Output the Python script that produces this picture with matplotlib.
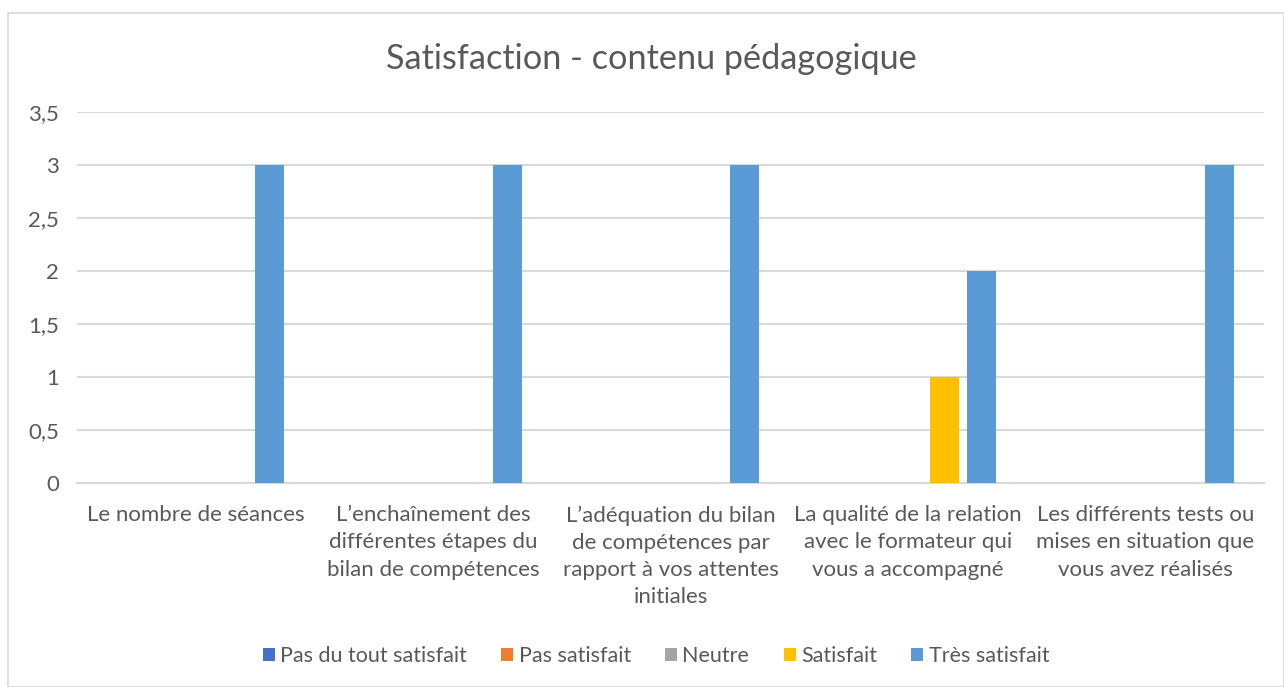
import matplotlib
matplotlib.use("Agg")
import matplotlib.pyplot as plt
from matplotlib.patches import Rectangle
import numpy as np

categories = [
    "Le nombre de séances",
    "L’enchaînement des\ndifférentes étapes du\nbilan de compétences",
    "L’adéquation du bilan\nde compétences par\nrapport à vos attentes\ninitiales",
    "La qualité de la relation\navec le formateur qui\nvous a accompagné",
    "Les différents tests ou\nmises en situation que\nvous avez réalisés",
]
series_names = ["Pas du tout satisfait", "Pas satisfait", "Neutre", "Satisfait", "Très satisfait"]
pas_du_tout = [0, 0, 0, 0, 0]
pas_satisfait = [0, 0, 0, 0, 0]
neutre = [0, 0, 0, 0, 0]
satisfait = [0, 0, 0, 1, 0]
tres_satisfait = [3, 3, 3, 2, 3]
series_values = [pas_du_tout, pas_satisfait, neutre, satisfait, tres_satisfait]
colors = ["#4472C4", "#ED7D31", "#A5A5A5", "#FFC000", "#5B9BD5"]
yticks = [0, 0.5, 1, 1.5, 2, 2.5, 3, 3.5]
ytick_labels = ["0", "0,5", "1", "1,5", "2", "2,5", "3", "3,5"]
title = "Satisfaction - contenu pédagogique"

plt.rcParams['font.family'] = ['Lato', 'DejaVu Sans']
txt = "#595959"
grid = "#D9D9D9"

fig = plt.figure(figsize=(12.84, 6.87), dpi=100)
fig.patches.append(Rectangle((8/1284, 0), 1 - 8/1284, 1 - 13/687, transform=fig.transFigure,
                             fill=False, edgecolor=grid, linewidth=1.2))
ax = fig.add_axes([77/1284, 1 - 483/687, 1187/1284, (483 - 112)/687])

x = np.arange(len(categories))
w = 0.122
step = 0.156
for i, (name, vals, c) in enumerate(zip(series_names, series_values, colors)):
    ax.bar(x + (i - 2) * step, vals, width=w, color=c, label=name, zorder=3)

ax.set_xlim(-0.5, 4.5)
ax.set_ylim(0, 3.5)
ax.set_yticks(yticks)
ax.set_yticklabels(ytick_labels, fontsize=16, color=txt)
ax.set_xticks(x)
ax.set_xticklabels(categories, fontsize=16, color=txt, linespacing=1.45, va='top')
ax.tick_params(axis='both', length=0)
ax.tick_params(axis='y', pad=13)
ax.tick_params(axis='x', pad=16)
ax.grid(axis='y', color=grid, linewidth=1.5, zorder=0)
for s in ['top', 'right', 'left']:
    ax.spines[s].set_visible(False)
ax.spines['bottom'].set_color(grid)
ax.spines['bottom'].set_linewidth(1.5)

fig.text(651/1284, 1 - 59/687, title, ha='center', va='center', fontsize=24.7, color=txt)

handles, labels = ax.get_legend_handles_labels()
fig.legend(handles, labels, loc='center', bbox_to_anchor=(656/1284, 1 - 656/687), ncol=5,
           frameon=False, fontsize=15.5, labelcolor=txt, handlelength=0.55, handleheight=0.55,
           handletextpad=0.25, columnspacing=1.6)

fig.savefig("out.png", dpi=100)
